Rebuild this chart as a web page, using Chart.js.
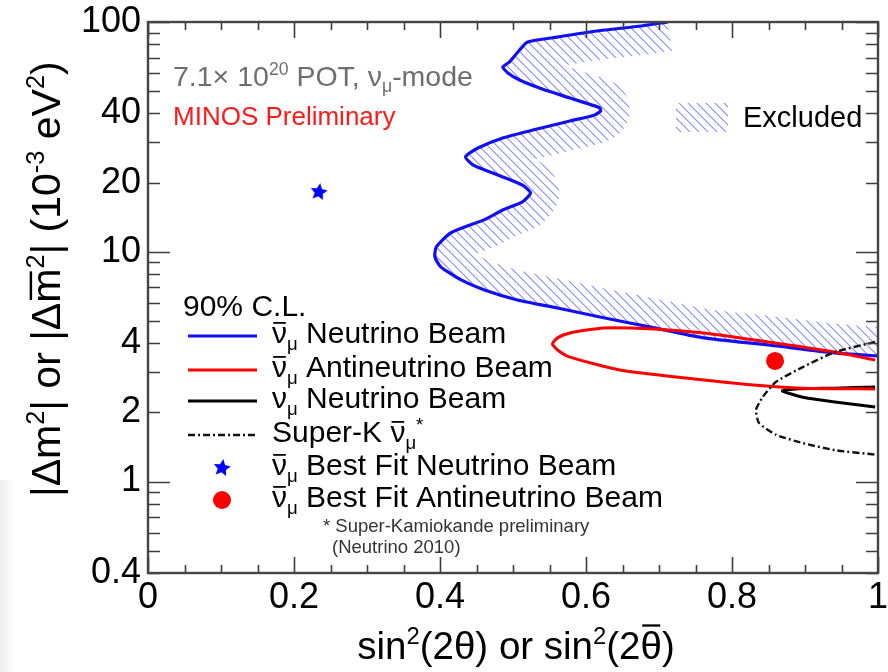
<!DOCTYPE html>
<html>
<head>
<meta charset="utf-8">
<script src="https://cdn.jsdelivr.net/npm/chart.js@4.4.1/dist/chart.umd.min.js"></script>
<style>
  html, body { margin: 0; padding: 0; background: #fff; }
  #wrap { position: relative; width: 888px; height: 672px; overflow: hidden; }
  #edge { position: absolute; left: 0; top: 480px; width: 14px; height: 192px;
          background: linear-gradient(to right, #ececec, rgba(255,255,255,0)); }
  canvas { position: absolute; left: 0; top: 0; }
</style>
</head>
<body>
<div id="wrap"><div id="edge"></div><canvas id="c" width="888" height="672"></canvas></div>
<script>
// 90% C.L. contours: x = sin^2(2θ), y = |Δm^2| in 10^-3 eV^2

// anti-nu_mu, neutrino beam (allowed region is to the left; excluded side hatched)
const nubarNuBeamX = [0.712, 0.676, 0.615, 0.561, 0.520, 0.509, 0.495, 0.486, 0.493, 0.509, 0.540, 0.578,
                      0.619, 0.620, 0.612, 0.578, 0.533, 0.486, 0.452, 0.435, 0.445, 0.479, 0.513, 0.524,
                      0.513, 0.486, 0.461, 0.415, 0.395, 0.393, 0.401, 0.429, 0.461, 0.506, 0.561, 0.619,
                      0.687, 0.761, 0.850, 0.941, 1.000];
const nubarNuBeamY = [100, 96.1, 91.4, 86.0, 81.8, 75.5, 66.9, 63.7, 60.0, 55.9, 51.1, 46.7,
                      42.3, 41.0, 39.4, 37.1, 34.2, 31.3, 28.3, 25.9, 23.9, 21.6, 19.5, 18.0,
                      16.5, 15.2, 13.8, 12.1, 10.5, 9.5, 8.6, 7.54, 6.82, 6.17, 5.69, 5.20,
                      4.71, 4.22, 3.93, 3.63, 3.52];

// anti-nu_mu, antineutrino beam
const nubarAntiBeamX = [0.996, 0.941, 0.850, 0.761, 0.693, 0.624, 0.578, 0.561, 0.554, 0.561, 0.578,
                        0.646, 0.737, 0.829, 0.897, 0.996];
const nubarAntiBeamY = [3.38, 3.66, 4.05, 4.43, 4.61, 4.66, 4.43, 4.22, 3.97, 3.74, 3.48,
                        3.06, 2.82, 2.63, 2.55, 2.53];

// nu_mu, neutrino beam
const numuNuBeamX = [0.996, 0.941, 0.887, 0.869, 0.880, 0.897, 0.941, 0.996];
const numuNuBeamY = [2.58, 2.55, 2.53, 2.48, 2.41, 2.33, 2.22, 2.11];

// Super-K anti-nu_mu
const superKX = [0.996, 0.941, 0.897, 0.860, 0.842, 0.833, 0.837, 0.860, 0.897, 0.941, 0.996];
const superKY = [4.05, 3.66, 3.15, 2.71, 2.33, 2.05, 1.80, 1.60, 1.47, 1.37, 1.31];

// best-fit points
const bestFitNuBeam = [0.234, 18.2];
const bestFitAntiBeam = [0.859, 3.35];

// axis ticks
const xTickValues = [0, 0.2, 0.4, 0.6, 0.8, 1];
const yTickValues = [0.4, 1, 2, 4, 10, 20, 40, 100];

const FONT = "'Liberation Sans', Arial, Helvetica, sans-serif";
const BLUE = '#1010f2';
const RED = '#ff0000';

function zip(xs, ys) { return xs.map((x, i) => ({ x: x, y: ys[i] })); }

// filled five-point star used as the best-fit marker
function makeStar(r, color) {
  const c = document.createElement('canvas');
  c.width = c.height = Math.ceil(r * 2 + 2);
  const g = c.getContext('2d');
  const cx = c.width / 2, cy = c.height / 2;
  g.beginPath();
  for (let i = 0; i < 10; i++) {
    const rad = i % 2 === 0 ? r : r * 0.48;
    const a = -Math.PI / 2 + i * Math.PI / 5 + 0.15;
    g.lineTo(cx + rad * Math.cos(a), cy + rad * Math.sin(a));
  }
  g.closePath();
  g.fillStyle = color;
  g.fill();
  return c;
}
const starImg = makeStar(9, '#0000ff');

// diagonal hatch pattern for the excluded band
function makeHatch(ctx) {
  const s = 9;
  const c = document.createElement('canvas');
  c.width = c.height = s;
  const g = c.getContext('2d');
  g.strokeStyle = '#8a8aff';
  g.lineWidth = 1.1;
  g.beginPath();
  g.moveTo(-1, -1); g.lineTo(s + 1, s + 1);
  g.moveTo(-1, s - 1); g.lineTo(1, s + 1);
  g.moveTo(s - 1, -1); g.lineTo(s + 1, 1);
  g.stroke();
  return ctx.createPattern(c, 'repeat');
}

// text with superscripts, subscripts and overbars
function drawRich(ctx, segs, x, y, size, align) {
  const parts = segs.map(s => {
    const sz = (s.sup || s.sub) ? size * 0.62 : size;
    ctx.font = sz + 'px ' + FONT;
    return { s: s, sz: sz, w: ctx.measureText(s.t).width };
  });
  const total = parts.reduce((a, p) => a + p.w, 0);
  let cx = x;
  if (align === 'center') cx -= total / 2;
  else if (align === 'right') cx -= total;
  ctx.textAlign = 'left';
  ctx.textBaseline = 'alphabetic';
  for (const p of parts) {
    ctx.font = p.sz + 'px ' + FONT;
    const dy = p.s.sup ? -size * 0.38 : (p.s.sub ? size * 0.22 : 0);
    ctx.fillText(p.s.t, cx, y + dy);
    if (p.s.bar) {
      const by = y + dy - size * p.s.bar;
      ctx.fillRect(cx + p.w * 0.08, by, p.w * 0.84, Math.max(1.3, size * 0.06));
    }
    cx += p.w;
  }
  return total;
}

function tracePath(ctx, pts) {
  ctx.moveTo(pts[0].x, pts[0].y);
  for (let i = 1; i < pts.length; i++) {
    const p = pts[i - 1], c = pts[i];
    if (p.cp2x !== undefined && c.cp1x !== undefined) {
      ctx.bezierCurveTo(p.cp2x, p.cp2y, c.cp1x, c.cp1y, c.x, c.y);
    } else {
      ctx.lineTo(c.x, c.y);
    }
  }
}

let hatch = null;

// hatched band on the excluded side of the neutrino-beam contour
const hatchPlugin = {
  id: 'hatchBand',
  beforeDatasetsDraw(chart) {
    const ctx = chart.ctx, a = chart.chartArea;
    if (!hatch) hatch = makeHatch(ctx);
    const pts = chart.getDatasetMeta(0).data;
    const last = pts[pts.length - 1];
    ctx.save();
    ctx.beginPath(); ctx.rect(a.left, a.top, a.width, a.height); ctx.clip();
    ctx.beginPath();
    tracePath(ctx, pts);
    ctx.lineTo(a.right + 80, last.y);
    ctx.lineTo(a.right + 80, a.top - 80);
    ctx.lineTo(pts[0].x, a.top - 80);
    ctx.closePath();
    ctx.clip();
    ctx.beginPath();
    tracePath(ctx, pts);
    ctx.lineWidth = 58;
    ctx.lineJoin = 'round';
    ctx.strokeStyle = hatch;
    ctx.stroke();
    ctx.restore();
  }
};

// frame with inward ticks on all four sides
const framePlugin = {
  id: 'frameTicks',
  afterDatasetsDraw(chart) {
    const ctx = chart.ctx, a = chart.chartArea;
    const xs = chart.scales.x, ys = chart.scales.y;
    ctx.save();
    ctx.strokeStyle = '#3c3c3c';
    ctx.lineWidth = 1.6;
    ctx.beginPath();
    for (let i = 0; i <= 20; i++) {
      const v = i * 0.05;
      const px = Math.round(xs.getPixelForValue(v)) + 0.5;
      const len = (i % 4 === 0) ? 16 : 8;
      ctx.moveTo(px, a.bottom); ctx.lineTo(px, a.bottom - len);
      ctx.moveTo(px, a.top); ctx.lineTo(px, a.top + len);
    }
    for (let d = 0.1; d <= 100; d *= 10) {
      for (let k = 1; k <= 9; k++) {
        const v = d * k;
        if (v < 0.4 - 1e-9 || v > 100 + 1e-9) continue;
        const py = Math.round(ys.getPixelForValue(v)) + 0.5;
        const len = k === 1 ? 22 : 12;
        ctx.moveTo(a.left, py); ctx.lineTo(a.left + len, py);
        ctx.moveTo(a.right, py); ctx.lineTo(a.right - len, py);
      }
    }
    ctx.stroke();
    ctx.lineWidth = 2.4;
    ctx.strokeStyle = '#444';
    ctx.strokeRect(a.left, a.top, a.width, a.height);
    ctx.restore();
  }
};

// titles, annotations and legend
const textPlugin = {
  id: 'texts',
  afterDraw(chart) {
    const ctx = chart.ctx;
    ctx.save();

    // axis titles
    ctx.fillStyle = '#000';
    drawRich(ctx, [{ t: 'sin' }, { t: '2', sup: 1 }, { t: '(2θ) or sin' }, { t: '2', sup: 1 },
                   { t: '(2' }, { t: 'θ', bar: 0.9 }, { t: ')' }], 516, 659, 38.5, 'center');
    ctx.save();
    ctx.translate(60, 497);
    ctx.rotate(-Math.PI / 2);
    drawRich(ctx, [{ t: '|Δm' }, { t: '2', sup: 1 }, { t: '| or |Δ' }, { t: 'm', bar: 0.74 }, { t: '2', sup: 1 },
                   { t: '| (10' }, { t: '-3', sup: 1 }, { t: ' eV' }, { t: '2', sup: 1 }, { t: ')' }], 0, 0, 41, 'left');
    ctx.restore();

    // run info
    ctx.fillStyle = '#6e6e6e';
    drawRich(ctx, [{ t: '7.1× 10' }, { t: '20', sup: 1 }, { t: ' POT, ν' }, { t: 'μ', sub: 1 }, { t: '-mode' }], 173, 86, 28.5, 'left');
    ctx.fillStyle = '#ff1a1a';
    drawRich(ctx, [{ t: 'MINOS Preliminary' }], 173, 125, 26, 'left');

    // excluded key
    ctx.fillStyle = hatch || '#8a8aff';
    ctx.fillRect(676, 103, 52, 29);
    ctx.fillStyle = '#000';
    drawRich(ctx, [{ t: 'Excluded' }], 743, 127, 29, 'left');

    // legend
    const ds = chart.data.datasets;
    ctx.fillStyle = '#000';
    drawRich(ctx, [{ t: '90% C.L.' }], 183, 316, 30, 'left');
    const nuBar = [{ t: 'ν', bar: 0.7 }, { t: 'μ', sub: 1 }];
    const rows = [
      { y: 343, segs: nuBar.concat([{ t: ' Neutrino Beam' }]), line: 0 },
      { y: 377, segs: nuBar.concat([{ t: ' Antineutrino Beam' }]), line: 1 },
      { y: 408, segs: [{ t: 'ν' }, { t: 'μ', sub: 1 }, { t: ' Neutrino Beam' }], line: 2 },
      { y: 442, segs: [{ t: 'Super-K ' }, { t: 'ν', bar: 0.7 }, { t: 'μ', sub: 1 }, { t: '*', sup: 1 }], line: 3 },
      { y: 475, segs: nuBar.concat([{ t: ' Best Fit Neutrino Beam' }]), mark: 'star' },
      { y: 507, segs: nuBar.concat([{ t: ' Best Fit Antineutrino Beam' }]), mark: 'dot' }
    ];
    for (const r of rows) {
      const ly = r.y - 7;
      if (r.line !== undefined) {
        const d = ds[r.line];
        ctx.save();
        ctx.strokeStyle = d.borderColor;
        ctx.lineWidth = d.borderWidth;
        ctx.setLineDash(d.borderDash || []);
        ctx.beginPath(); ctx.moveTo(188, ly); ctx.lineTo(257, ly); ctx.stroke();
        ctx.restore();
      } else if (r.mark === 'star') {
        ctx.drawImage(starImg, 222 - starImg.width / 2, ly - starImg.height / 2);
      } else {
        ctx.save();
        ctx.fillStyle = RED;
        ctx.beginPath(); ctx.arc(222, ly, 9, 0, Math.PI * 2); ctx.fill();
        ctx.restore();
      }
      ctx.fillStyle = '#000';
      drawRich(ctx, r.segs, 272, r.y, 30, 'left');
    }
    ctx.fillStyle = '#333';
    drawRich(ctx, [{ t: '* Super-Kamiokande preliminary' }], 323, 532, 18.5, 'left');
    drawRich(ctx, [{ t: '(Neutrino 2010)' }], 332, 553, 18.5, 'left');

    ctx.restore();
  }
};

const lineBase = { showLine: true, pointRadius: 0, pointHoverRadius: 0, fill: false, tension: 0.2 };

new Chart(document.getElementById('c'), {
  type: 'scatter',
  data: {
    datasets: [
      Object.assign({ label: 'ν̄μ Neutrino Beam', data: zip(nubarNuBeamX, nubarNuBeamY),
        borderColor: BLUE, borderWidth: 3.2, order: 3 }, lineBase),
      Object.assign({ label: 'ν̄μ Antineutrino Beam', data: zip(nubarAntiBeamX, nubarAntiBeamY),
        borderColor: RED, borderWidth: 3, order: 2 }, lineBase),
      Object.assign({ label: 'νμ Neutrino Beam', data: zip(numuNuBeamX, numuNuBeamY),
        borderColor: '#000', borderWidth: 3, order: 4 }, lineBase),
      Object.assign({ label: 'Super-K ν̄μ', data: zip(superKX, superKY),
        borderColor: '#111', borderWidth: 2.4, borderDash: [7, 3, 2, 3], order: 1 }, lineBase),
      { label: 'ν̄μ Best Fit Neutrino Beam', data: [{ x: bestFitNuBeam[0], y: bestFitNuBeam[1] }],
        pointStyle: starImg, pointRadius: 9, order: 0 },
      { label: 'ν̄μ Best Fit Antineutrino Beam', data: [{ x: bestFitAntiBeam[0], y: bestFitAntiBeam[1] }],
        pointStyle: 'circle', pointRadius: 9, backgroundColor: RED, borderColor: RED, borderWidth: 0, order: 0 }
    ]
  },
  options: {
    responsive: false,
    animation: false,
    devicePixelRatio: 1,
    layout: { padding: { top: 22, right: 6, left: 0, bottom: 0 } },
    plugins: { legend: { display: false }, tooltip: { enabled: false } },
    events: [],
    scales: {
      x: {
        type: 'linear', min: 0, max: 1,
        grid: { display: false, drawTicks: false },
        border: { display: false },
        ticks: {
          color: '#000', font: { family: FONT, size: 36 }, padding: 3,
          maxRotation: 0, autoSkip: false,
          callback: v => (v === 0 ? '0' : v === 1 ? '1' : v.toFixed(1))
        },
        afterBuildTicks: s => { s.ticks = xTickValues.map(v => ({ value: v })); },
        afterFit: s => { s.height = 99; s.paddingLeft = 0; s.paddingRight = 0; }
      },
      y: {
        type: 'logarithmic', min: 0.4, max: 100,
        grid: { display: false, drawTicks: false },
        border: { display: false },
        ticks: {
          color: '#000', font: { family: FONT, size: 36 }, padding: 7, autoSkip: false,
          callback: v => String(v)
        },
        afterBuildTicks: s => { s.ticks = yTickValues.map(v => ({ value: v })); },
        afterFit: s => { s.width = 148; s.paddingTop = 0; s.paddingBottom = 0; }
      }
    }
  },
  plugins: [hatchPlugin, framePlugin, textPlugin]
});
</script>
</body>
</html>
